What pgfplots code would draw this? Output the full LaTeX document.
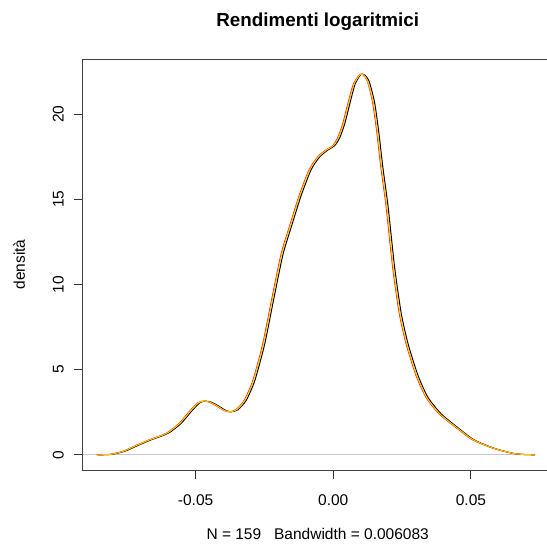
\documentclass[border=0pt]{standalone}
\usepackage{pgfplots}
\pgfplotsset{compat=1.18}
\usepackage{pgfplotstable}
\usepackage{fontspec}
\setmainfont{Liberation Sans}
\definecolor{goldline}{RGB}{255,200,0}
\definecolor{redline}{RGB}{255,0,0}

% kernel density estimates: x positions of the three series, shared density values
\pgfplotstableread{
xg       xr       xk       y
-0.0857 -0.0859 -0.0853 0.00
-0.0811 -0.0813 -0.0806 0.02
-0.0763 -0.0765 -0.0758 0.20
-0.0714 -0.0716 -0.0709 0.55
-0.0666 -0.0668 -0.0661 0.88
-0.0617 -0.0619 -0.0612 1.17
-0.0593 -0.0595 -0.0588 1.38
-0.0557 -0.0559 -0.0552 1.85
-0.0520 -0.0522 -0.0515 2.55
-0.0490 -0.0492 -0.0485 3.05
-0.0470 -0.0472 -0.0465 3.15
-0.0450 -0.0452 -0.0445 3.10
-0.0423 -0.0425 -0.0418 2.88
-0.0395 -0.0397 -0.0390 2.60
-0.0375 -0.0377 -0.0370 2.52
-0.0351 -0.0353 -0.0346 2.65
-0.0321 -0.0323 -0.0316 3.20
-0.0290 -0.0292 -0.0285 4.35
-0.0254 -0.0256 -0.0249 6.50
-0.0218 -0.0220 -0.0213 9.40
-0.0187 -0.0189 -0.0182 11.80
-0.0157 -0.0159 -0.0152 13.40
-0.0121 -0.0123 -0.0116 15.25
-0.0085 -0.0087 -0.0080 16.75
-0.0054 -0.0056 -0.0049 17.50
-0.0024 -0.0026 -0.0019 17.90
0.0000 -0.0002 0.0005 18.15
0.0018 0.0016 0.0023 18.60
0.0036 0.0034 0.0041 19.40
0.0055 0.0053 0.0060 20.60
0.0075 0.0073 0.0079 21.75
0.0097 0.0096 0.0100 22.33
0.0110 0.0109 0.0114 22.30
0.0125 0.0124 0.0130 21.95
0.0145 0.0143 0.0150 20.70
0.0160 0.0158 0.0165 19.00
0.0175 0.0173 0.0180 16.90
0.0194 0.0192 0.0199 14.60
0.0218 0.0216 0.0223 11.00
0.0242 0.0240 0.0247 8.30
0.0267 0.0265 0.0272 6.50
0.0303 0.0301 0.0308 4.65
0.0339 0.0337 0.0344 3.37
0.0387 0.0385 0.0392 2.40
0.0448 0.0446 0.0452 1.60
0.0508 0.0506 0.0511 0.88
0.0581 0.0579 0.0583 0.39
0.0654 0.0652 0.0655 0.08
0.0700 0.0698 0.0701 0.01
0.0732 0.0730 0.0733 0.00
}\densita

\begin{document}
\begin{tikzpicture}
\begin{axis}[
  scale only axis, width=470pt, height=411pt,
  at={(0,0)}, anchor=south west,
  xmin=-0.0910, xmax=0.0797, ymin=-0.894, ymax=23.24,
  scaled x ticks=false, scaled y ticks=false,
  axis line style={black!75, line width=0.9pt},
  tick pos=left, tick align=outside, major tick length=9pt,
  tick style={black!80, line width=0.9pt},
  xtick={-0.05,0,0.05}, xticklabels={-0.05,0.00,0.05},
  ytick={0,5,10,15,20}, yticklabels={0,5,10,15,20},
  every tick label/.style={font=\fontsize{15.5}{18}\selectfont},
  xticklabel style={anchor=base, yshift=-26.5pt},
  yticklabel style={rotate=90, anchor=base},
  yticklabel shift=10pt,
  title={Rendimenti logaritmici},
  title style={font=\bfseries\fontsize{18.8}{22}\selectfont,
    at={(axis description cs:0.5,1)}, anchor=base, yshift=26pt},
  xlabel={N = 159\ \ \ Bandwidth = 0.006083},
  xlabel style={font=\fontsize{15.5}{18}\selectfont,
    at={(axis description cs:0.5,0)}, anchor=base, yshift=-69pt},
  ylabel={densità},
  ylabel style={font=\fontsize{15.5}{18}\selectfont,
    at={([xshift=-57.7pt]axis description cs:0,0.5)}, anchor=base},
]
\addplot[gray!45, line width=0.9pt] coordinates {(-0.0910,0) (0.0732,0)};
\addplot[black, line width=1pt, smooth, tension=0.4] table[x=xk, y=y] {\densita};
\addplot[redline, line width=1pt, smooth, tension=0.4] table[x=xr, y=y] {\densita};
\addplot[goldline, line width=1pt, smooth, tension=0.4] table[x=xg, y=y] {\densita};
\end{axis}
\pgfresetboundingbox
\path[use as bounding box] (-82.7pt,-77pt) rectangle (464.3pt,470pt);
\end{tikzpicture}
\end{document}
